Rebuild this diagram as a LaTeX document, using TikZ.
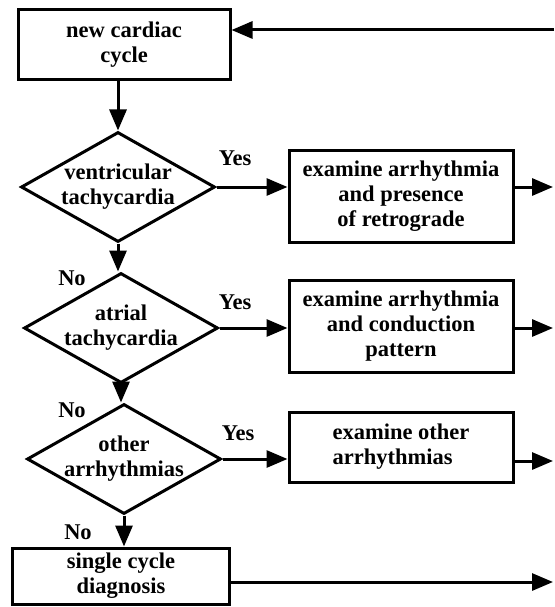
\documentclass[tikz,border=0pt]{standalone}
\usepackage{fontspec}
\setmainfont{Liberation Serif}
\usetikzlibrary{arrows.meta, positioning, shapes.geometric}

\begin{document}
\begin{tikzpicture}[
		x=1pt, y=-1pt,
		txt/.style={
			font=\bfseries\fontsize{22.5}{25}\selectfont
		},
		box/.style={
			rectangle,
			draw,
			line width=3pt,
			txt,
			align=center,
			inner sep=0pt
		},
		decision/.style={
			diamond,
			draw,
			line width=3pt,
			inner sep=0pt,
			minimum width=194pt,
			minimum height=110pt
		},
		arrow/.style={
			-{Triangle[length=21pt,width=17pt]},
			line width=3pt
		}
		]
		
		\useasboundingbox (0,0) rectangle (554,607);
		
		% main column
		\node[box, minimum width=212pt, minimum height=70pt] (start) at (124,45) {
			new cardiac\\cycle
		};
		
		\node[decision, label={[txt, align=center]center:{ventricular\\tachycardia}}] (vtach) at (118,187) {};
		
		\node[decision, label={[txt, align=center]center:{atrial\\tachycardia}}] (atach) at (121,328) {};
		
		\node[decision, label={[txt, align=center]center:{other\\arrhythmias}}] (other) at (124,459) {};
		
		\node[box, minimum width=217pt, minimum height=56pt] (single) at (121,576) {
			single cycle\\diagnosis
		};
		
		% right column
		\node[box, minimum width=224pt, minimum height=92pt] (retro) at (401,196) {
			examine arrhythmia\\and presence\\of retrograde
		};
		
		\node[box, minimum width=224pt, minimum height=92pt] (cond) at (401,326) {
			examine arrhythmia\\and conduction\\pattern
		};
		
		\node[box, minimum width=224pt, minimum height=70pt, align=left] (exother) at (401,447) {
			examine other\\arrhythmias
		};
		
		% labels
		\node[txt] (yes1) at (235,158) {Yes};
		\node[txt] (yes2) at (235,302) {Yes};
		\node[txt] (yes3) at (238,433) {Yes};
		\node[txt] (no1) at (72,278) {No};
		\node[txt] (no2) at (72,410) {No};
		\node[txt] (no3) at (78,532) {No};
		
		% loose ends at the right
		\coordinate (back) at (554,30);
		\coordinate (out1) at (553,187);
		\coordinate (out2) at (553,328);
		\coordinate (out3) at (553,461);
		\coordinate (out4) at (553,582);
		%--
		\draw[arrow] (start.south -| vtach.north) -- (vtach.north);
		\draw[arrow] (vtach.south) -- (vtach.south |- atach.north);
		\draw[arrow] (atach.south) -- (atach.south |- other.north);
		\draw[arrow] (other.south) -- (other.south |- single.north);
		%--
		\draw[arrow] (vtach.east) -- (vtach.east -| retro.west);
		\draw[arrow] (atach.east) -- (atach.east -| cond.west);
		\draw[arrow] (other.east) -- (other.east -| exother.west);
		%--
		\draw[arrow] (retro.east |- out1) -- (out1);
		\draw[arrow] (cond.east |- out2) -- (out2);
		\draw[arrow] (exother.east |- out3) -- (out3);
		\draw[arrow] (single.east |- out4) -- (out4);
		%--
		\draw[arrow] (back) -- (back -| start.east);
		
	\end{tikzpicture}
\end{document}
